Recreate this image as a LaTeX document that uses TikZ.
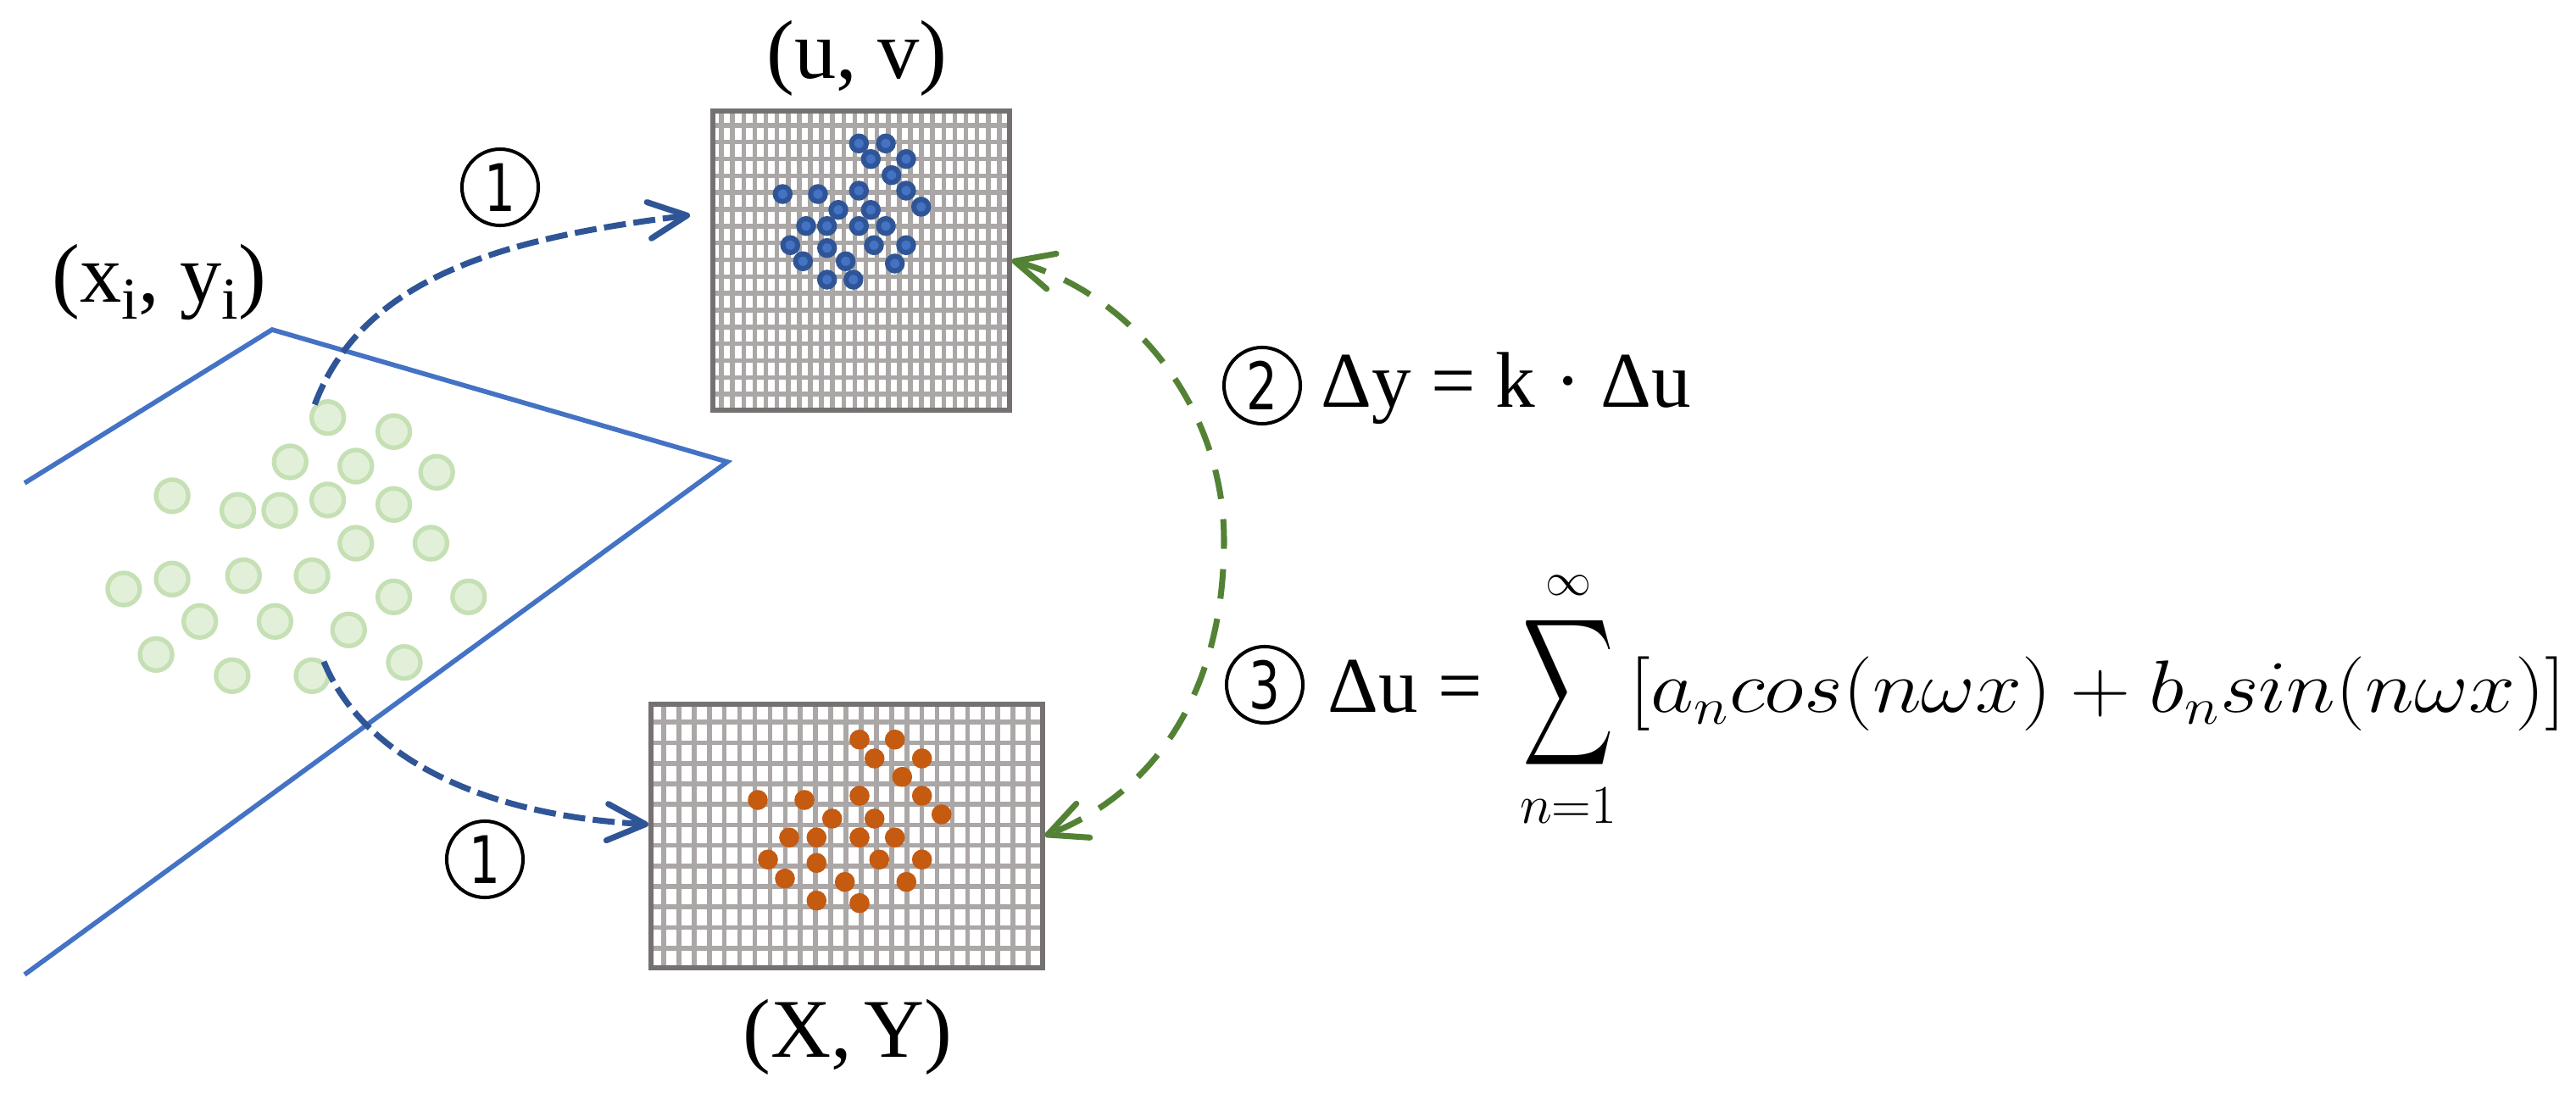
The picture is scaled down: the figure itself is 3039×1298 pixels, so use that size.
\documentclass[tikz,border=0pt]{standalone}
\usepackage{amsmath}
\usepackage{fontspec}
\usepackage{graphicx}
\setmainfont{Liberation Serif}
\newfontfamily\digitfont{DejaVu Sans}
\usetikzlibrary{arrows.meta}
\definecolor{planeblue}{HTML}{4472C4}
\definecolor{darkblue}{HTML}{2F5597}
\definecolor{arrowgreen}{HTML}{548235}
\definecolor{ringgreen}{HTML}{C5E0B4}
\definecolor{fillgreen}{HTML}{E2F0D9}
\definecolor{dotorange}{HTML}{C55A11}
\definecolor{bargray}{HTML}{ABA7A6}
\definecolor{bordergray}{HTML}{767171}
\begin{document}
\begin{tikzpicture}[x=0.01cm,y=-0.01cm,
  >={Straight Barb[length=4.5mm,width=4.3mm,round]},
  lbl/.style={inner sep=0pt, font=\fontsize{28}{32}\selectfont},
  eqn/.style={inner sep=0pt, font=\fontsize{26.5}{30}\selectfont},
  circnum/.style={circle, draw, line width=1.15pt, minimum size=0.9cm, inner sep=0pt, font=\digitfont\fontsize{22}{22}\selectfont},
  gdot/.style={circle, draw=ringgreen, fill=fillgreen, line width=1.5pt, minimum size=0.38cm, inner sep=0pt},
  gridbox/.style={rectangle, inner sep=0pt, fill=white},
  bar/.style={draw=bargray, line width=1.6pt},
  border/.style={draw=bordergray, line width=1.6pt},
  bluearrow/.style={draw=darkblue, line width=2pt, dash pattern=on 0.26cm off 0.09cm, ->},
  greenarrow/.style={draw=arrowgreen, line width=2pt, dash pattern=on 0.35cm off 0.24cm, <->},
  plane/.style={draw=planeblue, line width=1.6pt, line join=miter},
]
\useasboundingbox[fill=white] (0,0) rectangle (3039,1298);

% plane
\draw[plane] (29,570) -- (321,389) -- (858,545) -- (29,1150);

% green points on the plane
\foreach \n/\x/\y in {1/386.6/492.7, 2/464.6/509.3, 3/342.3/545, 4/419.8/550, 5/515.2/557.3,
  6/203.1/585, 7/280.6/602.3, 8/330/602.3, 9/386.6/590, 10/464.6/595.3, 11/419.8/641,
  12/508.4/641, 13/145.9/695, 14/203.1/683.3, 15/287.3/679.3, 16/368.1/679.3,
  17/464.6/704.3, 18/552.8/704.3, 19/235.7/733.3, 20/324.4/733.3, 21/411.3/743.3,
  22/184.1/772.3, 23/273.9/797.3, 24/368.1/797.3, 25/477/781.7}
  {\node[gdot] (g\n) at (\x,\y) {};}

% top grid (u,v)
\node[gridbox, minimum width=3.54cm, minimum height=3.57cm, anchor=north west] (uv) at (838,128) {};
\foreach \i in {1,...,26}{\pgfmathsetmacro\xx{838+\i*354/27}\draw[bar] (\xx,130) -- (\xx,483);}
\foreach \j in {1,...,17}{\pgfmathsetmacro\yy{128+\j*357/18}\draw[bar] (840,\yy) -- (1190,\yy);}
\draw[border] ([shift={(2.8,2.8)}]uv.north west) rectangle ([shift={(-2.8,-2.8)}]uv.south east);

% bottom grid (X,Y)
\node[gridbox, minimum width=4.66cm, minimum height=3.15cm, anchor=north west] (XY) at (765,828) {};
\foreach \i in {1,...,25}{\pgfmathsetmacro\xx{765+\i*466/26}\draw[bar] (\xx,830) -- (\xx,1141);}
\foreach \j in {1,...,12}{\pgfmathsetmacro\yy{828+\j*315/13}\draw[bar] (767,\yy) -- (1229,\yy);}
\draw[border] ([shift={(2.8,2.8)}]XY.north west) rectangle ([shift={(-2.8,-2.8)}]XY.south east);

% blue dots
\foreach \x/\y in {1013.3/169.3, 1045/169.3, 1027.3/187.7, 1069/187.7, 1051.7/206.7,
  923.3/229, 965/229, 1013.3/225, 1069/225, 1086.7/244, 989/247.7, 1027.3/247.7,
  951/266.7, 975.7/266.7, 1013.3/266.7, 1045/266.7, 932.3/289.3, 975.7/292.7,
  1031/289.3, 1069/289.3, 947.3/308.3, 997.7/308.3, 1055.7/311, 975.7/330, 1006.7/330}
  {\filldraw[draw=darkblue, fill=planeblue, line width=0.06cm] (\x,\y) circle[radius=0.087cm];}

% orange dots
\foreach \x/\y in {1014/872.7, 1055.7/872.7, 1031.7/895, 1087.7/895, 1064.3/916.7,
  894/944, 949/944, 1014/939, 1087.7/939, 1110.7/961, 981.7/966, 1031.7/966,
  931/988.3, 963.3/988.3, 1014/988.3, 1055.7/988.3, 906/1014.3, 963.3/1018.3,
  1037.3/1014.3, 1087.7/1014.3, 926/1036.7, 996.7/1040.7, 1069.3/1040.7, 963.3/1062.7, 1014/1065.7}
  {\fill[dotorange] (\x,\y) circle[radius=0.118cm];}

% labels
\node[lbl, anchor=base] (lxy) at (188,357) {(x\raisebox{-0.2em}{\fontsize{20}{20}\selectfont i}, y\raisebox{-0.2em}{\fontsize{20}{20}\selectfont i})};
\node[lbl, anchor=base] (luv) at (1011,93) {(u, v)};
\node[lbl, anchor=base] (lXY) at (1000,1247) {(X,\hspace{0.15em}Y)};

% circled step numbers
\node[circnum] (c1a) at (590,221) {\scalebox{0.75}[1]{1}};
\node[circnum] (c1b) at (572,1014) {\scalebox{0.75}[1]{1}};
\node[circnum] (c2) at (1489,455) {\scalebox{0.75}[1]{2}};
\node[circnum] (c3) at (1492,808) {\scalebox{0.75}[1]{3}};

% equations
\node[eqn, anchor=base west] (eq2) at (1558,481) {Δy = k · Δu};
\node[eqn, anchor=base west] (eq3) at (1566,841) {Δu = \scalebox{1.065}{$\displaystyle\mkern4mu\mathop{\vcenter{\hbox{\scalebox{0.8}[1.3]{$\displaystyle\sum$}}}}\limits_{n=1}^{\scriptscriptstyle\infty}\mkern3mu$}\scalebox{1.13}[1]{$[a_n cos(n\omega x)+b_n sin(n\omega x)]$}};

% arrows
\draw[bluearrow] (g1.135) .. controls (431,318) and (616,279) .. ([shift={(-24,-53.5)}]uv.west);
\draw[bluearrow] (g24.50) .. controls (427,891) and (565,962) .. ([shift={(0,-13.5)}]XY.west);
\coordinate (gm) at (1444,638);
\draw[greenarrow] (uv.east) .. controls (1335,346) and (1444,480) .. (gm) .. controls (1444,808) and (1369,932) .. (XY.east);
\end{tikzpicture}
\end{document}
